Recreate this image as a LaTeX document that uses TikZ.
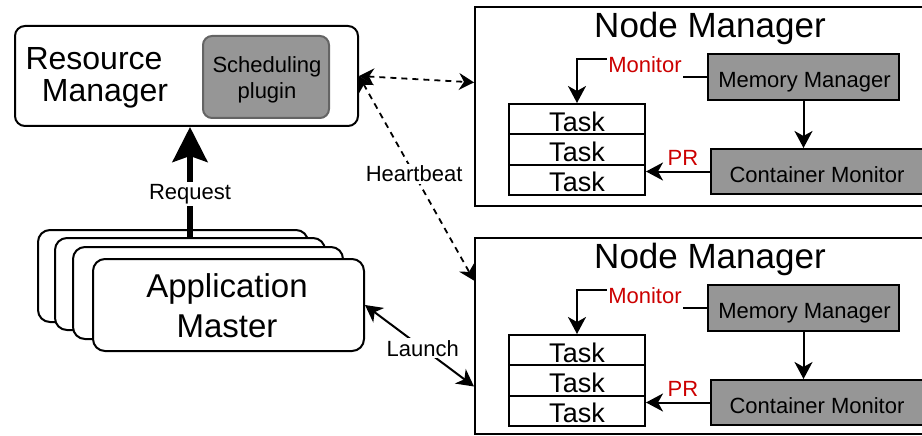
\documentclass[tikz,border=0pt]{standalone}
\usepackage{fontspec}
\setmainfont{Liberation Sans}
\usetikzlibrary{arrows.meta,calc}
\definecolor{boxgray}{RGB}{150,150,150}
\definecolor{spborder}{RGB}{100,100,100}
\definecolor{lblred}{RGB}{204,0,0}
\newcommand\fsz[1]{\fontsize{#1}{#1}\selectfont}
\newcommand\nmgroup[3]{%
\begin{scope}[yshift=#2]
\node[box, minimum width=455, minimum height=#3-6, anchor=north west] (nm#1) at (474,6) {};
\node[txt, font=\fsz{35}] (title#1) at (710,37.3) {Node Manager};
\node[box, fill=boxgray, minimum width=191, minimum height=46] (mm#1) at (803.5,77) {};
\node[txt, font=\fsz{22}] (mmt#1) at (804.5,87.3) {Memory Manager};
\node[box, fill=boxgray, minimum width=213, minimum height=45] (cm#1) at (817.5,171.5) {};
\node[txt, font=\fsz{22}] (cmt#1) at (817,182) {Container Monitor};
\node[box, minimum width=136, minimum height=30.3] (ta#1) at (577,119.15) {};
\node[box, minimum width=136, minimum height=30.3] (tb#1) at (577,149.45) {};
\node[box, minimum width=136, minimum height=30.3] (tc#1) at (577,179.75) {};
\node[txt, font=\fsz{27}] (tat#1) at (577,131.7) {Task};
\node[txt, font=\fsz{27}] (tbt#1) at (577,161.5) {Task};
\node[txt, font=\fsz{27}] (tct#1) at (577,191) {Task};
\draw[arr] (mm#1.west) -- ++(-63,0) -- ++(0,-18) -| (ta#1.north);
\node[fill=white, inner xsep=1pt, inner ysep=0pt, minimum height=28, text=lblred, font=\fsz{22}] (mon#1) at (645,64.7) {Monitor};
\draw[arr] (mm#1.south) -- (mm#1.south |- cm#1.north);
\draw[arr] (cm#1.west) -- (cm#1.west -| tc#1.east);
\node[txt, text=lblred, font=\fsz{22}] (pr#1) at (683,165) {PR};
\end{scope}}
\begin{document}
\begin{tikzpicture}[x=1pt,y=-1pt,
  box/.style={draw, line width=2pt, inner sep=0pt},
  txt/.style={anchor=base, inner sep=0pt},
  tip/.style={},
  arr/.style={line width=2pt, -{Stealth[length=17pt,width=18pt,inset=5pt]}},
  darr/.style={line width=1.8pt, dash pattern=on 6pt off 5pt,
     {Stealth[length=15pt,width=17pt,inset=5pt]}-{Stealth[length=15pt,width=17pt,inset=5pt]}},
  lbl/.style={fill=white, inner sep=2pt, font=\fsz{22}}]
\useasboundingbox (0,0) rectangle (922,436);
\clip (0,0) rectangle (922,436);
% Resource Manager
\node[box, rounded corners=10pt, minimum width=343, minimum height=100] (rm) at (186.5,76) {};
\node[txt, font=\fsz{32}] (rmt1) at (94,70) {Resource};
\node[txt, font=\fsz{32}] (rmt2) at (105,101.7) {Manager};
\node[box, draw=spborder, fill=boxgray, rounded corners=9pt, minimum width=126, minimum height=82] (sp) at (266,77) {};
\node[txt, font=\fsz{22}] (spt1) at (267,72.7) {Scheduling};
\node[txt, font=\fsz{22}] (spt2) at (267,99) {plugin};
% Application Masters
\node[box, fill=white, rounded corners=12pt, minimum width=270, minimum height=92] (am1) at (173,276) {};
\node[box, fill=white, rounded corners=12pt, minimum width=270, minimum height=92] (am2) at (190,284) {};
\draw[line width=5.5pt, -{Stealth[length=35pt,width=35pt,inset=6pt]}] (am2.north) -- (am2.north |- rm.south)
  node[lbl, pos=0.39] (req) {Request};
\node[box, fill=white, rounded corners=12pt, minimum width=270, minimum height=92] (am3) at (208,293) {};
\node[box, fill=white, rounded corners=12pt, minimum width=271, minimum height=92] (am4) at (228.5,305) {};
\node[txt, font=\fsz{33}] (amt1) at (227,297.7) {Application};
\node[txt, font=\fsz{33}] (amt2) at (227,337.7) {Master};
% Node Managers
\nmgroup{1}{0pt}{205}
\nmgroup{2}{-231pt}{202}
% Heartbeat
\draw[darr] (rm.east) -- ($(nm1.north west)!0.38!(nm1.south west)$);
\draw[darr] (rm.east) -- ($(nm2.north west)!0.22!(nm2.south west)$)
  node[lbl, pos=0.479] (hb) {Heartbeat};
% Launch
\draw[line width=2pt, {Stealth[length=17pt,width=18pt,inset=5pt]}-{Stealth[length=17pt,width=18pt,inset=5pt]}]
  (am4.east) -- ($(nm2.north west)!0.755!(nm2.south west)$)
  node[lbl, pos=0.53] (la) {Launch};
\end{tikzpicture}
\end{document}
